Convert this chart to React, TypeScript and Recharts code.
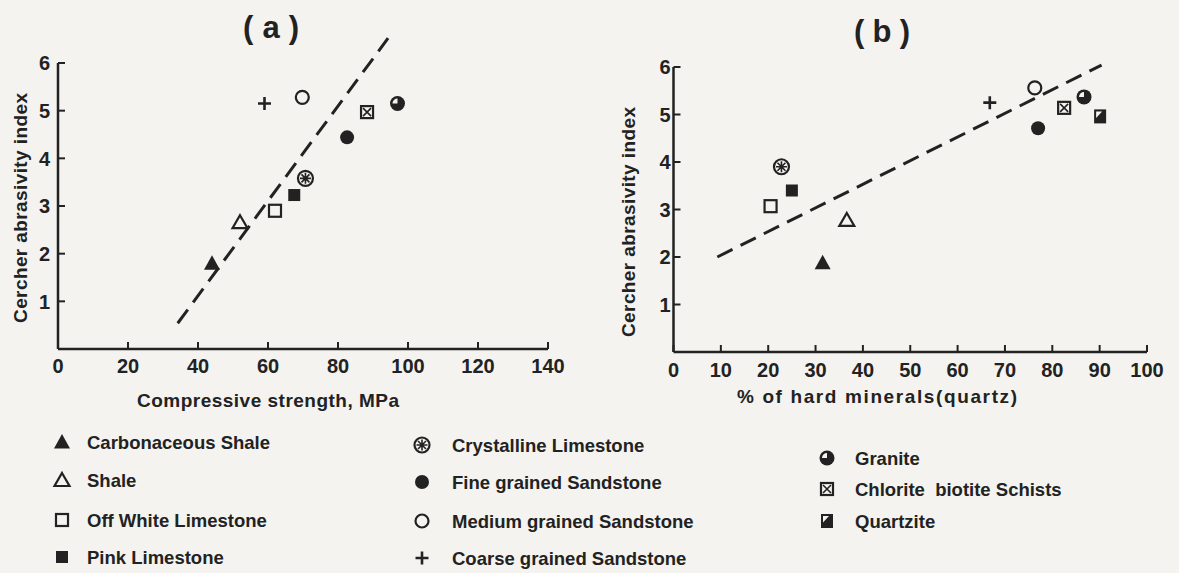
import React from "react";
import { ScatterChart, Scatter, XAxis, YAxis, ReferenceLine } from "recharts";

const INK = "#222222";
const PAPER = "#f4f3ef";
const FONT = "'Liberation Sans', Arial, sans-serif";

const rocks = [
  "Carbonaceous Shale",
  "Shale",
  "Off White Limestone",
  "Pink Limestone",
  "Crystalline Limestone",
  "Fine grained Sandstone",
  "Medium grained Sandstone",
  "Coarse grained Sandstone",
  "Granite",
  "Chlorite\u00a0 biotite Schists",
  "Quartzite",
];

// (a) compressive strength, MPa vs Cerchar index (no quartzite point)
const strengthA = [44, 52, 62, 67.5, 70.7, 82.6, 69.8, 59, 97, 88.3, null];
const cerA = [1.8, 2.66, 2.9, 3.23, 3.58, 4.44, 5.28, 5.15, 5.15, 4.97, null];

// (b) % of hard minerals vs Cerchar index
const quartzB = [31.5, 36.6, 20.5, 25, 22.8, 77, 76.3, 66.8, 86.7, 82.5, 90.1];
const cerB = [1.88, 2.78, 3.07, 3.4, 3.9, 4.71, 5.56, 5.25, 5.37, 5.14, 4.96];

// dashed trend lines (endpoints)
const trendAx = [34.2, 94.3];
const trendAy = [0.54, 6.52];
const trendBx = [9.25, 90.4];
const trendBy = [2.0, 6.04];

const ticksA = [0, 20, 40, 60, 80, 100, 120, 140];
const ticksB = [0, 10, 20, 30, 40, 50, 60, 70, 80, 90, 100];
const ticksY = [1, 2, 3, 4, 5, 6];

const kinds = [
  "triFilled",
  "triOpen",
  "sqOpen",
  "sqFilled",
  "crystal",
  "circFilled",
  "circOpen",
  "plus",
  "granite",
  "chlorite",
  "quartzite",
];

function Marker({ kind, cx, cy }: { kind: string; cx: number; cy: number }) {
  switch (kind) {
    case "triFilled":
      return <polygon points={`${cx},${cy - 8} ${cx + 8},${cy + 6.5} ${cx - 8},${cy + 6.5}`} fill={INK} />;
    case "triOpen":
      return (
        <polygon
          points={`${cx},${cy - 7} ${cx + 7.5},${cy + 6} ${cx - 7.5},${cy + 6}`}
          fill="none"
          stroke={INK}
          strokeWidth={2.2}
        />
      );
    case "sqOpen":
      return <rect x={cx - 6} y={cy - 6} width={12} height={12} fill="none" stroke={INK} strokeWidth={2.2} />;
    case "sqFilled":
      return <rect x={cx - 6} y={cy - 6} width={12} height={12} fill={INK} />;
    case "crystal":
      return (
        <g stroke={INK} fill="none">
          <circle cx={cx} cy={cy} r={7.5} strokeWidth={2.2} />
          <path
            d={`M${cx - 4} ${cy - 4}L${cx + 4} ${cy + 4}M${cx + 4} ${cy - 4}L${cx - 4} ${cy + 4}M${cx} ${cy - 5.5}V${cy + 5.5}M${cx - 5.5} ${cy}H${cx + 5.5}`}
            strokeWidth={1.6}
          />
        </g>
      );
    case "circFilled":
      return <circle cx={cx} cy={cy} r={7} fill={INK} />;
    case "circOpen":
      return <circle cx={cx} cy={cy} r={6.5} fill={PAPER} stroke={INK} strokeWidth={2.2} />;
    case "plus":
      return <path d={`M${cx - 6.5} ${cy}H${cx + 6.5}M${cx} ${cy - 6.5}V${cy + 6.5}`} stroke={INK} strokeWidth={2.6} />;
    case "granite":
      return (
        <g>
          <circle cx={cx} cy={cy} r={7.5} fill={INK} />
          <path d={`M${cx} ${cy}L${cx - 5} ${cy}A5 5 0 0 1 ${cx} ${cy - 5}Z`} fill={PAPER} />
        </g>
      );
    case "chlorite":
      return (
        <g stroke={INK} fill="none">
          <rect x={cx - 6} y={cy - 6} width={12} height={12} strokeWidth={2.2} />
          <path d={`M${cx - 4} ${cy - 4}L${cx + 4} ${cy + 4}M${cx + 4} ${cy - 4}L${cx - 4} ${cy + 4}`} strokeWidth={1.6} />
        </g>
      );
    case "quartzite":
      return (
        <g>
          <rect x={cx - 6} y={cy - 7} width={12} height={14} fill={INK} />
          <polygon points={`${cx - 4},${cy - 5} ${cx + 2},${cy - 5} ${cx - 4},${cy + 1.5}`} fill={PAPER} />
        </g>
      );
    default:
      return null;
  }
}

const axisLine = { stroke: INK, strokeWidth: 2.5 };
const tickLine = { stroke: INK, strokeWidth: 2 };

function BottomTick(p: any) {
  return (
    <text x={p.x} y={p.y} dy="0.71em" textAnchor="middle" fill={INK} fontSize={20} fontWeight={700} fontFamily={FONT}>
      {p.payload.value}
    </text>
  );
}

function LeftTick(p: any) {
  return (
    <text x={p.x} y={p.y} dy="0.36em" textAnchor="end" fill={INK} fontSize={20} fontWeight={700} fontFamily={FONT}>
      {p.payload.value}
    </text>
  );
}

function Panel({
  xs,
  ys,
  tx,
  ty,
  xMax,
  xTicks,
  margin,
  width,
  yTickMargin,
  xTickMargin,
}: {
  xs: (number | null)[];
  ys: (number | null)[];
  tx: number[];
  ty: number[];
  xMax: number;
  xTicks: number[];
  margin: { top: number; right: number; bottom: number; left: number };
  width: number;
  yTickMargin: number;
  xTickMargin: number;
}) {
  return (
    <ScatterChart width={width} height={430} margin={margin}>
      <XAxis
        type="number"
        dataKey="x"
        domain={[0, xMax]}
        ticks={xTicks}
        interval={0}
        height={30}
        tickSize={-7}
        tickMargin={xTickMargin}
        axisLine={axisLine}
        tickLine={tickLine}
        tick={<BottomTick />}
      />
      <YAxis
        type="number"
        dataKey="y"
        domain={[0, 6]}
        ticks={ticksY}
        interval={0}
        width={40}
        tickSize={-7}
        tickMargin={yTickMargin}
        axisLine={axisLine}
        tickLine={tickLine}
        tick={<LeftTick />}
      />
      <ReferenceLine
        segment={[
          { x: tx[0], y: ty[0] },
          { x: tx[1], y: ty[1] },
        ]}
        stroke={INK}
        strokeWidth={3}
        strokeDasharray="17 9"
        ifOverflow="visible"
      />
      {rocks.map((name, i) =>
        xs[i] == null ? null : (
          <Scatter
            key={name}
            name={name}
            data={[{ x: xs[i], y: ys[i] }]}
            isAnimationActive={false}
            shape={(p: any) => <Marker kind={kinds[i]} cx={p.cx} cy={p.cy} />}
          />
        )
      )}
    </ScatterChart>
  );
}

const legendCols = [
  { mx: 62, tx: 87, rows: [0, 1, 2, 3], ys: [442, 480, 520, 557] },
  { mx: 422, tx: 452, rows: [4, 5, 6, 7], ys: [445, 482, 521, 558] },
  { mx: 827, tx: 855, rows: [8, 9, 10], ys: [458, 489, 521] },
];

export default function App() {
  const txt = { fill: INK, fontFamily: FONT, fontWeight: 700 } as const;
  return (
    <div
      style={{
        position: "absolute",
        left: 0,
        top: 0,
        width: 1179,
        height: 573,
        background: PAPER,
        overflow: "hidden",
      }}
    >
      <div style={{ position: "absolute", left: 0, top: 0 }}>
        <Panel
          xs={strengthA}
          ys={cerA}
          tx={trendAx}
          ty={trendAy}
          xMax={140}
          xTicks={ticksA}
          width={600}
          margin={{ top: 63, right: 52, bottom: 51, left: 18 }}
          yTickMargin={15}
          xTickMargin={17}
        />
      </div>
      <div style={{ position: "absolute", left: 600, top: 0 }}>
        <Panel
          xs={quartzB}
          ys={cerB}
          tx={trendBx}
          ty={trendBy}
          xMax={100}
          xTicks={ticksB}
          width={579}
          margin={{ top: 67, right: 32, bottom: 48, left: 33.5 }}
          yTickMargin={10}
          xTickMargin={18}
        />
      </div>
      <svg
        width={1179}
        height={573}
        style={{ position: "absolute", left: 0, top: 0, pointerEvents: "none" }}
      >
        <text x={271} y={38} textAnchor="middle" fontSize={31} textLength={56} {...txt}>
          (a)
        </text>
        <text x={882} y={42} textAnchor="middle" fontSize={31} textLength={56} {...txt}>
          (b)
        </text>
        <text x={268} y={407} textAnchor="middle" fontSize={19} textLength={262} {...txt}>
          Compressive strength, MPa
        </text>
        <text x={877} y={403} textAnchor="middle" fontSize={19} textLength={280} {...txt}>
          % of hard minerals(quartz)
        </text>
        <text
          x={27}
          y={208}
          textAnchor="middle"
          fontSize={19}
          textLength={230}
          transform="rotate(-90 27 208)"
          {...txt}
        >
          Cercher abrasivity index
        </text>
        <text
          x={635}
          y={222}
          textAnchor="middle"
          fontSize={19}
          textLength={230}
          transform="rotate(-90 635 222)"
          {...txt}
        >
          Cercher abrasivity index
        </text>
        {legendCols.map((col) =>
          col.rows.map((ri, j) => (
            <g key={rocks[ri]}>
              <Marker kind={kinds[ri]} cx={col.mx} cy={col.ys[j]} />
              <text x={col.tx} y={col.ys[j] + 6.5} fontSize={18.5} {...txt}>
                {rocks[ri]}
              </text>
            </g>
          ))
        )}
      </svg>
    </div>
  );
}
